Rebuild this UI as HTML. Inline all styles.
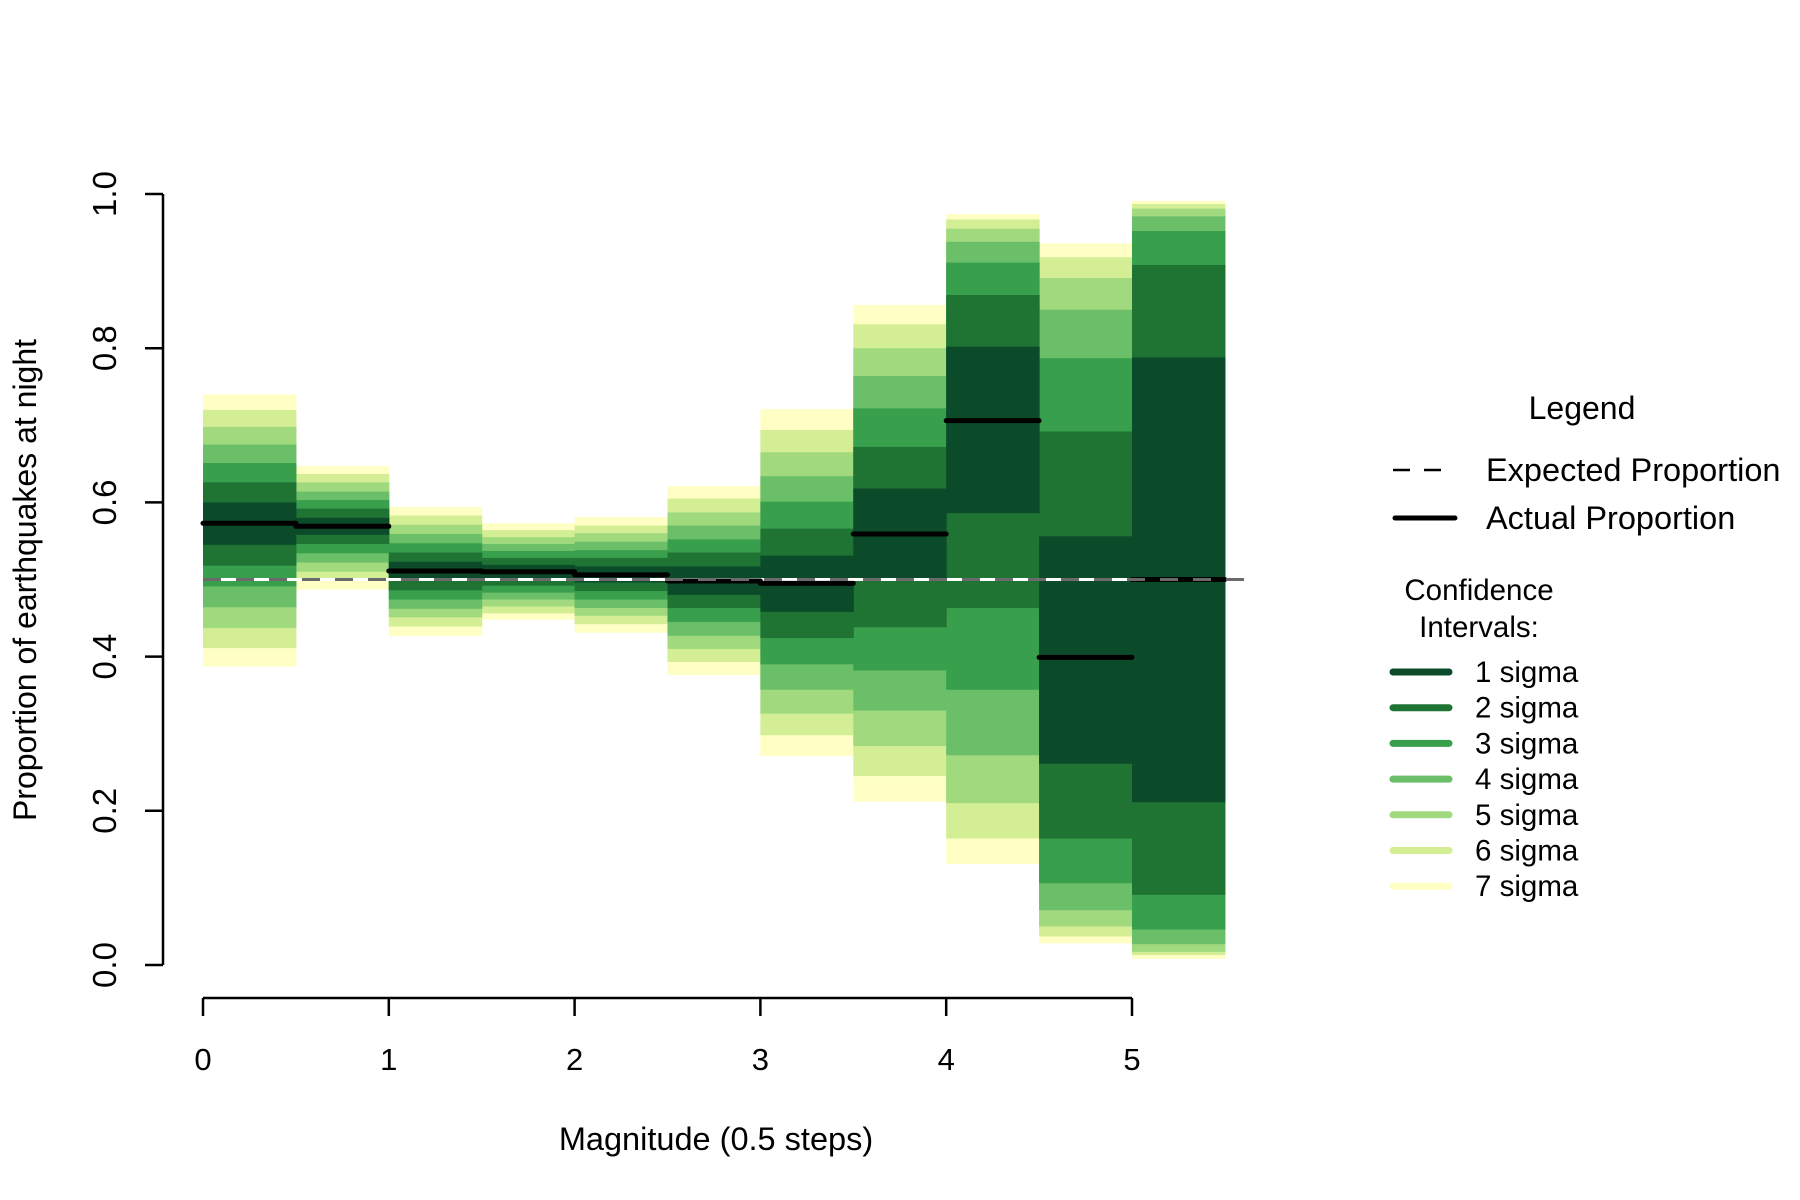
<!DOCTYPE html>
<html><head><meta charset="utf-8"><style>
html,body{margin:0;padding:0;background:#fff;}
svg{display:block;font-family:"Liberation Sans",Arial,sans-serif;}
</style></head><body>
<svg id="chart" width="1800" height="1200" viewBox="0 0 1800 1200" xmlns="http://www.w3.org/2000/svg">
<g id="bands"></g>
<g id="lines"></g>
<g id="axes"></g>
<g id="legend"></g>
</svg>
<script>
const bins = [0,0.5,1,1.5,2,2.5,3,3.5,4,4.5,5];
const actual = [0.573,0.569,0.511,0.510,0.506,0.498,0.495,0.559,0.706,0.399,0.500];
const expected = 0.5;
const hi1 = [0.600,0.580,0.523,0.519,0.517,0.517,0.531,0.618,0.802,0.556,0.788];
const hi2 = [0.626,0.592,0.535,0.528,0.528,0.535,0.566,0.672,0.869,0.692,0.908];
const hi3 = [0.651,0.603,0.547,0.537,0.538,0.552,0.601,0.722,0.911,0.787,0.952];
const hi4 = [0.675,0.614,0.559,0.546,0.549,0.570,0.634,0.764,0.938,0.850,0.971];
const hi5 = [0.698,0.626,0.571,0.555,0.560,0.587,0.665,0.800,0.955,0.891,0.981];
const hi6 = [0.720,0.637,0.583,0.564,0.570,0.605,0.694,0.831,0.967,0.918,0.987];
const hi7 = [0.740,0.647,0.594,0.573,0.581,0.621,0.721,0.856,0.974,0.936,0.991];
const lo1 = [0.545,0.558,0.498,0.501,0.496,0.480,0.458,0.502,0.586,0.261,0.211];
const lo2 = [0.518,0.546,0.486,0.492,0.485,0.463,0.424,0.438,0.463,0.164,0.091];
const lo3 = [0.491,0.534,0.474,0.483,0.474,0.445,0.390,0.382,0.357,0.106,0.046];
const lo4 = [0.464,0.522,0.462,0.474,0.463,0.427,0.357,0.330,0.272,0.071,0.027];
const lo5 = [0.437,0.510,0.451,0.465,0.453,0.410,0.326,0.284,0.210,0.050,0.017];
const lo6 = [0.411,0.499,0.439,0.456,0.442,0.393,0.298,0.245,0.164,0.037,0.013];
const lo7 = [0.387,0.487,0.427,0.448,0.431,0.376,0.271,0.212,0.131,0.028,0.008];
const sigmaLabels = ["1 sigma","2 sigma","3 sigma","4 sigma","5 sigma","6 sigma","7 sigma"];
const yTicks = [0,0.2,0.4,0.6,0.8,1.0];
const yTickLabels = ["0.0","0.2","0.4","0.6","0.8","1.0"];
const xTicks = [0,1,2,3,4,5];

const colors = ["#0b4b29","#1f7434","#389f4c","#6bbf69","#a1d97e","#d3ee95","#ffffc5"];
const NS = "http://www.w3.org/2000/svg";
const X = v => 203 + v*185.8;
const Y = v => 965 - v*771;
const binW = 0.5;
function mk(tag, attrs, parent){const e=document.createElementNS(NS,tag);for(const k in attrs)e.setAttribute(k,attrs[k]);parent.appendChild(e);return e;}

const bandsG = document.getElementById('bands');
const his=[hi1,hi2,hi3,hi4,hi5,hi6,hi7], los=[lo1,lo2,lo3,lo4,lo5,lo6,lo7];
for(let k=6;k>=0;k--){
  bins.forEach((b,i)=>{
    const r = mk('rect',{x:X(b),y:Y(his[k][i]),width:X(b+binW)-X(b)+0.5,height:Y(los[k][i])-Y(his[k][i]),fill:colors[k]},bandsG);
    
    
  });
}
const linesG = document.getElementById('lines');
let w = mk('line',{x1:X(0),x2:1254,y1:Y(expected),y2:Y(expected),stroke:"#fff","stroke-width":3},linesG);


bins.forEach((b,i)=>{
  const l = mk('line',{x1:X(b),x2:X(b+binW),y1:Y(actual[i]),y2:Y(actual[i]),stroke:"#000","stroke-width":5,"stroke-linecap":"round"},linesG);
  
  
});
let d = mk('line',{x1:X(0),x2:1254,y1:Y(expected),y2:Y(expected),stroke:"#6b6b6b","stroke-width":3,"stroke-dasharray":"18 15"},linesG);



const ax = document.getElementById('axes');
let ya = mk('line',{x1:163,x2:163,y1:Y(1),y2:Y(0),stroke:"#000","stroke-width":2.5},ax);


yTicks.forEach((t,i)=>{
  const tk = mk('line',{x1:145,x2:163,y1:Y(t),y2:Y(t),stroke:"#000","stroke-width":2.5},ax);
  
  
  const tx = mk('text',{x:0,y:0,transform:`translate(116,${Y(t)}) rotate(-90)`,"text-anchor":"middle","font-size":33},ax);
  tx.textContent = yTickLabels[i];
  
  
});
let xa = mk('line',{x1:X(0),x2:X(5),y1:998,y2:998,stroke:"#000","stroke-width":2.5},ax);


xTicks.forEach(t=>{
  const tk = mk('line',{x1:X(t),x2:X(t),y1:998,y2:1016,stroke:"#000","stroke-width":2.5},ax);
  
  
  const tx = mk('text',{x:X(t),y:1070,"text-anchor":"middle","font-size":31},ax);
  tx.textContent = String(t);
  
  
});
let xt = mk('text',{x:716,y:1150,"text-anchor":"middle","font-size":32.5},ax);
xt.textContent="Magnitude (0.5 steps)";


let yt = mk('text',{x:0,y:0,transform:"translate(36,580) rotate(-90)","text-anchor":"middle","font-size":32},ax);
yt.textContent="Proportion of earthquakes at night";



const lg = document.getElementById('legend');
let t1 = mk('text',{x:1582,y:419,"text-anchor":"middle","font-size":32},lg);
t1.textContent="Legend";


let ld = mk('line',{x1:1393,x2:1451,y1:470,y2:470,stroke:"#000","stroke-width":2.5,"stroke-dasharray":"17 14"},lg);


let le = mk('text',{x:1486,y:481,"font-size":32.5},lg);
le.textContent="Expected Proportion";


let la = mk('line',{x1:1395,x2:1455,y1:518,y2:518,stroke:"#000","stroke-width":5,"stroke-linecap":"round"},lg);


let lat = mk('text',{x:1486,y:529,"font-size":32.5},lg);
lat.textContent="Actual Proportion";


let c1 = mk('text',{x:1479,y:600,"text-anchor":"middle","font-size":29.5},lg);
c1.textContent="Confidence";


let c2 = mk('text',{x:1479,y:637,"text-anchor":"middle","font-size":29.5},lg);
c2.textContent="Intervals:";


sigmaLabels.forEach((s,i)=>{
  const y = 672 + i*35.7;
  const sw = mk('line',{x1:1393,x2:1449,y1:y,y2:y,stroke:colors[i],"stroke-width":7,"stroke-linecap":"round"},lg);
  
  
  const tx = mk('text',{x:1475,y:y+10,"font-size":29.5},lg);
  tx.textContent = s;
  
  
});
</script>
</body></html>
